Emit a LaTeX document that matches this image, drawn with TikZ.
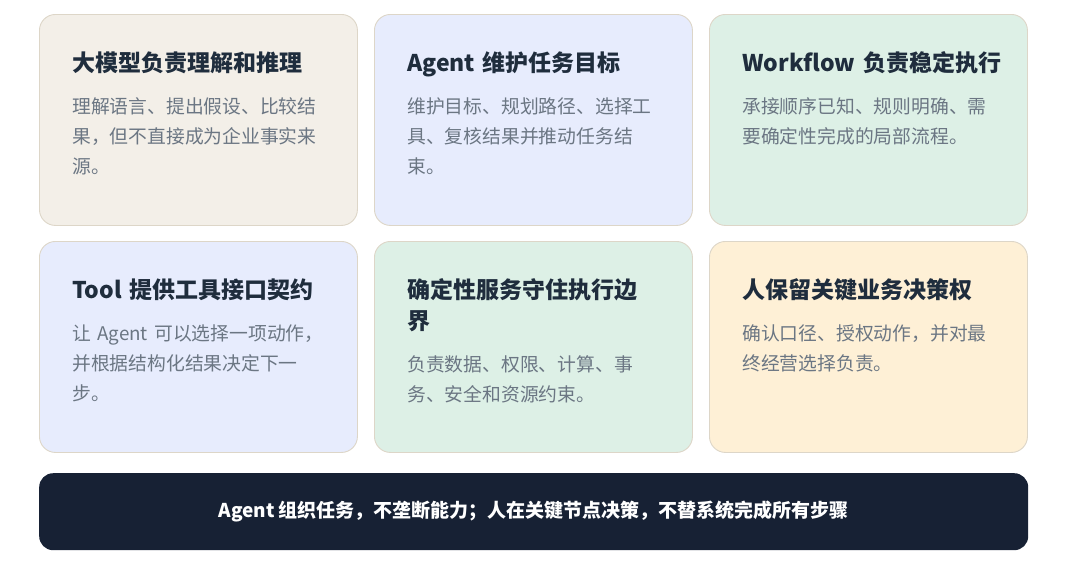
\documentclass[tikz,border=0pt]{standalone}
\usepackage{fontspec}
\setmainfont{Noto Sans CJK SC}
\usetikzlibrary{positioning,calc}

\definecolor{cardline}{HTML}{DDD6C8}
\definecolor{titleink}{HTML}{1F2D3D}
\definecolor{bodyink}{HTML}{6B7683}
\definecolor{sand}{HTML}{F3EFE8}
\definecolor{lavender}{HTML}{E7ECFD}
\definecolor{mint}{HTML}{DDF0E6}
\definecolor{cream}{HTML}{FEF0D6}
\definecolor{navy}{HTML}{172134}

\tikzset{
	card/.style={draw=cardline, line width=0.9pt, rounded corners=16pt, anchor=north west,
		minimum width=318pt, minimum height=211pt, inner sep=0pt},
	cardtitle/.style={anchor=base west, inner sep=0pt, text=titleink, text width=280pt, align=left,
		font=\fontsize{23}{31}\selectfont\bfseries},
	cardtext/.style={anchor=base west, inner sep=0pt, text=bodyink, text width=280pt, align=left,
		font=\fontsize{18.8}{30}\selectfont},
	banner/.style={fill=navy, rounded corners=14pt, anchor=north west, minimum width=989pt,
		minimum height=77pt, text=white, font=\fontsize{19}{24}\selectfont\bfseries}
}

\begin{document}
\begin{tikzpicture}[x=1pt,y=-1pt]
	\useasboundingbox (0,0) rectangle (1080,568);

	% top row
	\node[card, fill=sand] (llm) at (39,14) {};
	\node[card, fill=lavender] (agent) at (374,14) {};
	\node[card, fill=mint] (flow) at (709,14) {};
	% bottom row
	\node[card, fill=lavender] (tool) at (39,241) {};
	\node[card, fill=mint] (svc) at (374,241) {};
	\node[card, fill=cream] (human) at (709,241) {};

	\node[cardtitle] (llm-t) at ($(llm.north west)+(33,57)$) {大模型负责理解和推理};
	\node[cardtext] (llm-b) at ($(llm-t.base west)+(0,42.5)$)
		{理解语言、提出假设、比较结\\果，但不直接成为企业事实来\\源。};

	\node[cardtitle] (agent-t) at ($(agent.north west)+(33,57)$) {Agent 维护任务目标};
	\node[cardtext] (agent-b) at ($(agent-t.base west)+(0,42.5)$)
		{维护目标、规划路径、选择工\\具、复核结果并推动任务结\\束。};

	\node[cardtitle] (flow-t) at ($(flow.north west)+(33,57)$) {Workflow 负责稳定执行};
	\node[cardtext] (flow-b) at ($(flow-t.base west)+(0,42.5)$)
		{承接顺序已知、规则明确、需\\要确定性完成的局部流程。};

	\node[cardtitle] (tool-t) at ($(tool.north west)+(33,57)$) {Tool 提供工具接口契约};
	\node[cardtext] (tool-b) at ($(tool-t.base west)+(0,42.5)$)
		{让 Agent 可以选择一项动作，\\并根据结构化结果决定下一\\步。};

	\node[cardtitle] (svc-t) at ($(svc.north west)+(33,57)$) {确定性服务守住执行边\\界};
	\node[cardtext] (svc-b) at ($(svc-t.base west)+(0,73.5)$)
		{负责数据、权限、计算、事\\务、安全和资源约束。};

	\node[cardtitle] (human-t) at ($(human.north west)+(33,57)$) {人保留关键业务决策权};
	\node[cardtext] (human-b) at ($(human-t.base west)+(0,42.5)$)
		{确认口径、授权动作，并对最\\终经营选择负责。};

	% summary bar
	\node[banner] (sum) at (39,473) {Agent 组织任务，不垄断能力；人在关键节点决策，不替系统完成所有步骤};
\end{tikzpicture}
\end{document}
